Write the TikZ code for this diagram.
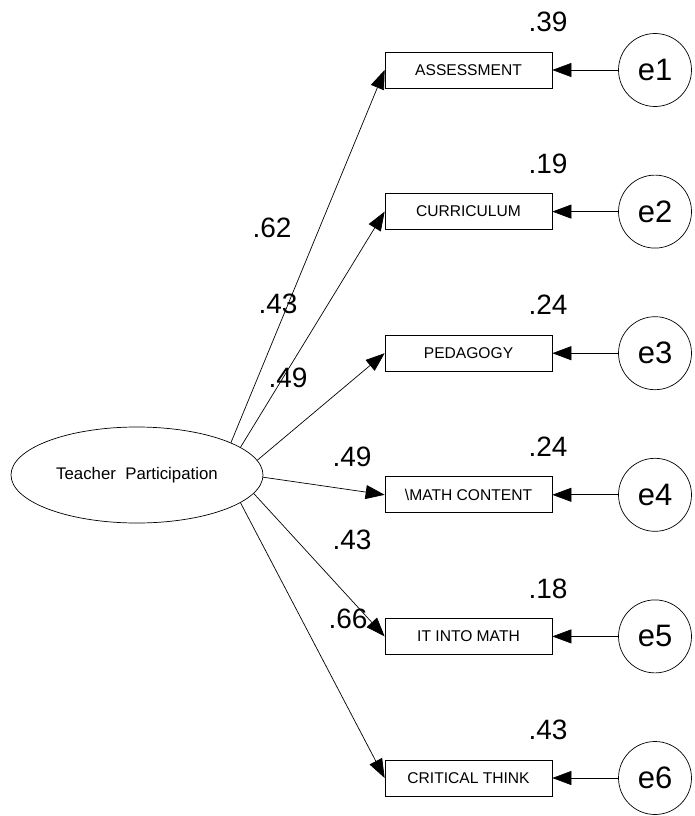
\documentclass[tikz,border=0pt]{standalone}
\usepackage{fontspec}
\setmainfont{Liberation Sans}
\usetikzlibrary{shapes.geometric,arrows.meta}

\begin{document}
\begin{tikzpicture}[x=1pt,y=-1pt, line width=0.7pt, >={Triangle[length=19pt,width=14pt]},
    every node/.style={font=\fontsize{28}{30}\selectfont}]
    \useasboundingbox (0,0) rectangle (694,816);
    \node[draw,ellipse,minimum width=252pt,minimum height=96pt,inner sep=0pt,font=\fontsize{16.8}{18}\selectfont] (tp) at (137,475) {Teacher\ \ Participation};
    \foreach \i/\txt/\rsq in {1/ASSESSMENT/.39,2/CURRICULUM/.19,3/PEDAGOGY/.24,4/{\textbackslash MATH CONTENT}/.24,5/IT INTO MATH/.18,6/CRITICAL THINK/.43}{
        \pgfmathsetmacro{\yy}{70+141.6*(\i-1)}
        \node[draw,minimum width=167pt,minimum height=36pt,inner sep=0pt,font=\fontsize{15.6}{17}\selectfont] (b\i) at (468.5,\yy) {\txt};
        \node[draw,circle,minimum size=73pt,inner sep=0pt,font=\fontsize{31}{33}\selectfont] (e\i) at (655,\yy) {e\i};
        \node (r\i) at (548,\yy-48) {\rsq};
        \draw[->] (e\i) -- (b\i);
    }
    \foreach \i/\ang in {1/19,2/15,3/7,4/-1,5/-9,6/-15}{\draw[->] (tp.\ang) -- (b\i.west);}
    % path coefficients
    \foreach \i/\x/\y/\val in {1/272/228/.62,2/278/304/.43,3/288/378/.49,4/352/457/.49,5/352/540/.43,6/348/619/.66}{
        \node (w\i) at (\x,\y) {\val};
    }
\end{tikzpicture}
\end{document}
